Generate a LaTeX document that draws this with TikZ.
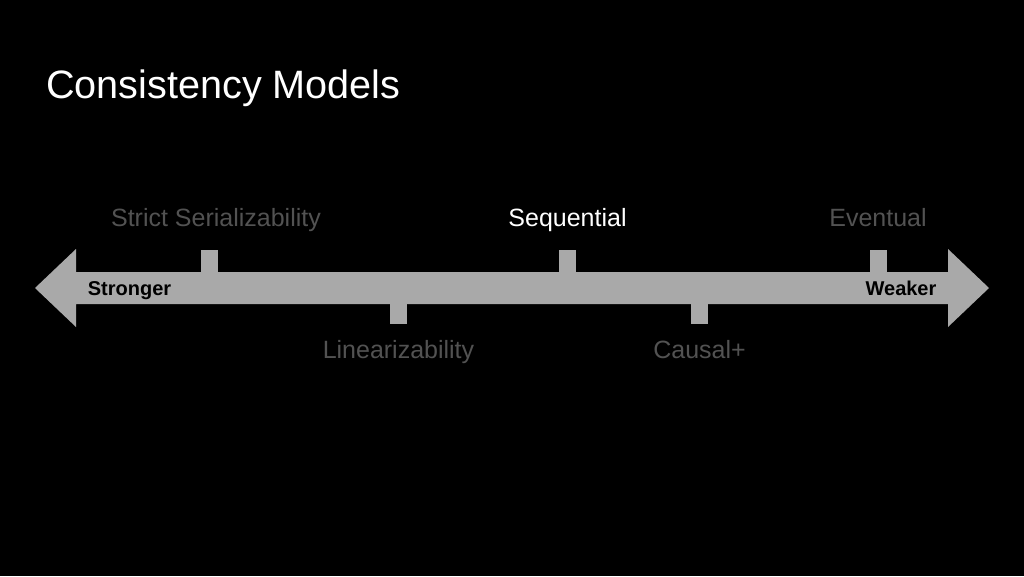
\documentclass[tikz,border=0pt]{standalone}
\usepackage{fontspec}
\setmainfont{Liberation Sans}
\usepackage{xcolor}
\definecolor{bandgray}{HTML}{A9A9A9}
\definecolor{dimtext}{HTML}{525252}

\begin{document}
\begin{tikzpicture}[x=1pt, y=-1pt,
    every node/.style = {inner sep=0pt, align=center},
    model/.style = {anchor=base, text=dimtext, font=\fontsize{25}{30}\selectfont},
    current/.style = {model, text=white},
    tickbox/.style = {rectangle, fill=bandgray, minimum width=17pt, minimum height=23pt},
    endlabel/.style = {anchor=base, text=black, font=\bfseries\fontsize{20}{24}\selectfont}]
    \fill[black] (0,0) rectangle (1024,576);
    \useasboundingbox (0,0) rectangle (1024,576);

    \node[anchor=base west, text=white, font=\fontsize{39.6}{46}\selectfont] (title) at (46,98) {Consistency Models};

    % the scale
    \fill[bandgray] (35,288) -- (76,249) -- (76,272) -- (948,272) -- (948,249)
        -- (989,288) -- (948,327) -- (948,304) -- (76,304) -- (76,327) -- cycle;

    \node[tickbox, anchor=south] (strict) at (209.5,273) {};
    \node[tickbox, anchor=south] (seq) at (567.5,273) {};
    \node[tickbox, anchor=south] (event) at (878,273) {};
    \node[tickbox, anchor=north, minimum height=21pt] (lin) at (398.5,303) {};
    \node[tickbox, anchor=north, minimum height=21pt] (causal) at (699.5,303) {};

    \node[model] (strictlbl) at (216,226) {Strict Serializability};
    \node[current] (seqlbl) at (567.5,226) {Sequential};
    \node[model] (eventlbl) at (878,226) {Eventual};
    \node[model] (linlbl) at (398.5,358) {Linearizability};
    \node[model] (causallbl) at (699.5,358) {Causal+};

    \node[endlabel] (strong) at (129.5,295) {Stronger};
    \node[endlabel] (weak) at (901,295) {Weaker};
\end{tikzpicture}
\end{document}
